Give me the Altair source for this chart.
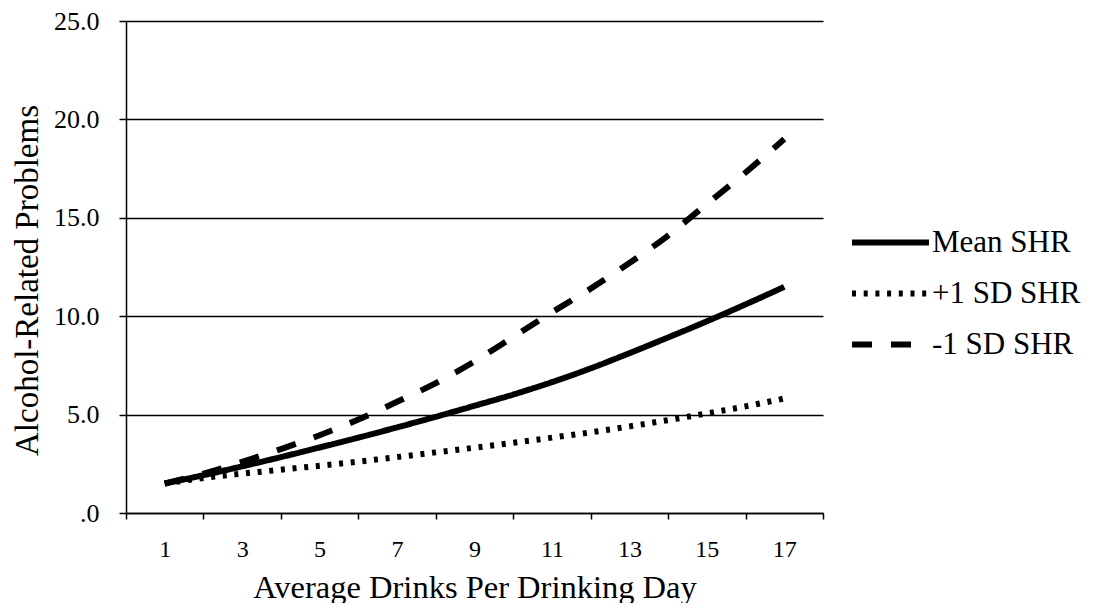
import altair as alt
import pandas as pd

# ---- data ----
drinks = list(range(1, 18))
mean_shr = [1.5, 1.92, 2.37, 2.84, 3.33, 3.83, 4.35, 4.89, 5.45, 6.02, 6.65, 7.35, 8.12, 8.92, 9.74, 10.6, 11.49]
plus1_shr = [1.5, 1.78, 2.0, 2.2, 2.4, 2.61, 2.84, 3.08, 3.32, 3.57, 3.83, 4.1, 4.4, 4.72, 5.06, 5.42, 5.82]
minus1_shr = [1.5, 2.0, 2.6, 3.25, 3.95, 4.75, 5.65, 6.6, 7.7, 8.95, 10.2, 11.4, 12.7, 14.1, 15.7, 17.3, 19.0]
series_names = ["Mean SHR", "+1 SD SHR", "-1 SD SHR"]
x_tick_values = list(range(0, 19))
y_tick_values = [0, 5, 10, 15, 20, 25]

rows = []
for name, vals in zip(series_names, [mean_shr, plus1_shr, minus1_shr]):
    for d, v in zip(drinks, vals):
        rows.append({"drinks": d, "problems": v, "series": name})
df = pd.DataFrame(rows)

FONT = "Liberation Serif"
W, H = 697, 492

chart = alt.Chart(df).mark_line(
    color="black", strokeWidth=6, strokeCap="butt", strokeJoin="round", interpolate="monotone"
).encode(
    x=alt.X(
        "drinks:Q",
        scale=alt.Scale(domain=[0, 18], nice=False, zero=False),
        axis=alt.Axis(
            title="Average Drinks Per Drinking Day",
            values=x_tick_values,
            labelExpr="datum.value % 2 == 1 ? datum.label : ''",
            tickOpacity={"condition": {"test": "datum.value % 2 == 1", "value": 0}, "value": 1},
            grid=False,
            tickSize=6,
            tickWidth=1.5,
            tickColor="black",
            domainColor="black",
            domainWidth=1.5,
            labelFont=FONT,
            labelFontSize=24,
            labelColor="black",
            labelPadding=18,
            labelFlush=False,
            titleFont=FONT,
            titleFontSize=32.5,
            titleFontWeight="normal",
            titleColor="black",
            titleBaseline="alphabetic",
            titleY=84,
        ),
    ),
    y=alt.Y(
        "problems:Q",
        scale=alt.Scale(domain=[0, 25], nice=False),
        axis=alt.Axis(
            title="Alcohol-Related Problems",
            values=y_tick_values,
            labelExpr="datum.value == 0 ? '.0' : format(datum.value, '.1f')",
            grid=True,
            gridColor="black",
            gridWidth=1.5,
            tickSize=7,
            tickWidth=1.5,
            tickColor="black",
            domainColor="black",
            domainWidth=1.5,
            labelFont=FONT,
            labelFontSize=26,
            labelColor="black",
            labelPadding=20,
            labelFlush=False,
            titleFont=FONT,
            titleFontSize=33,
            titleFontWeight="normal",
            titleColor="black",
            titleAngle=270,
            titleAlign="center",
            titleBaseline="alphabetic",
            titleX=-89,
            titleY=259,
        ),
    ),
    strokeDash=alt.StrokeDash(
        "series:N",
        sort=series_names,
        scale=alt.Scale(domain=series_names, range=[[1, 0], [4, 7.7], [20, 19]]),
        legend=alt.Legend(
            title=None,
            orient="none",
            legendX=723,
            legendY=196,
            symbolType="stroke",
            symbolSize=5929,
            symbolStrokeWidth=6,
            symbolStrokeColor="black",
            labelFont=FONT,
            labelFontSize=31,
            labelColor="black",
            labelOffset=0,
            clipHeight=51,
            rowPadding=0,
            padding=0,
        ),
    ),
    order=alt.Order("drinks:Q"),
).properties(
    width=W,
    height=H,
    autosize=alt.AutoSizeParams(type="none"),
    padding={"left": 118, "top": 13, "right": 271, "bottom": 90},
).configure(
    background="white",
    font=FONT,
).configure_axis(
    labelFont=FONT,
    titleFont=FONT,
).configure_legend(
    labelFont=FONT,
).configure_view(
    stroke=None
)

chart.save("out.html", embed_options={"renderer": "svg", "actions": False})
